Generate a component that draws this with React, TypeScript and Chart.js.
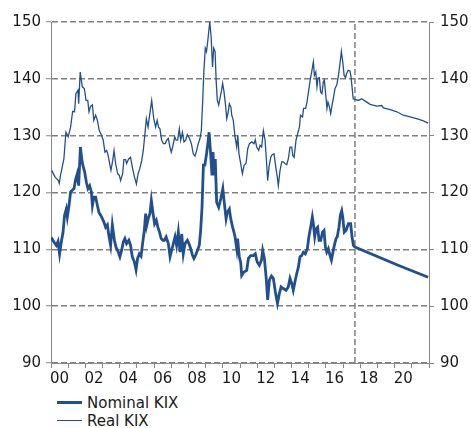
import React, { useEffect, useRef } from "react";
import { Chart, registerables } from "chart.js";

Chart.register(...registerables);

const realYears = [
  2000.04, 2000.24, 2000.43, 2000.48, 2000.57, 2000.75, 2000.87, 2001.0, 2001.14, 2001.26,
  2001.37, 2001.45, 2001.57, 2001.61, 2001.7, 2001.82, 2001.94, 2002.04, 2002.14, 2002.21,
  2002.31, 2002.41, 2002.49, 2002.6, 2002.7, 2002.81, 2002.93, 2003.04, 2003.14, 2003.24,
  2003.33, 2003.43, 2003.49, 2003.59, 2003.67, 2003.76, 2003.88, 2003.98, 2004.05, 2004.17,
  2004.24, 2004.34, 2004.4, 2004.52, 2004.63, 2004.75, 2004.86, 2004.97, 2005.07, 2005.17,
  2005.28, 2005.37, 2005.47, 2005.55, 2005.65, 2005.74, 2005.86, 2005.98, 2006.09, 2006.18,
  2006.26, 2006.34, 2006.44, 2006.54, 2006.65, 2006.75, 2006.83, 2006.92, 2007.0, 2007.08,
  2007.2, 2007.28, 2007.37, 2007.47, 2007.55, 2007.65, 2007.74, 2007.84, 2007.93, 2008.05,
  2008.17, 2008.28, 2008.38, 2008.48, 2008.57, 2008.67, 2008.75, 2008.83, 2008.9, 2008.98,
  2009.05, 2009.13, 2009.24, 2009.32, 2009.4, 2009.47, 2009.55, 2009.61, 2009.68, 2009.76,
  2009.83, 2009.91, 2009.99, 2010.07, 2010.15, 2010.23, 2010.3, 2010.38, 2010.47, 2010.52,
  2010.61, 2010.71, 2010.81, 2010.87, 2010.94, 2011.04, 2011.14, 2011.24, 2011.35, 2011.45,
  2011.55, 2011.68, 2011.82, 2011.89, 2011.97, 2012.09, 2012.17, 2012.26, 2012.36, 2012.46,
  2012.55, 2012.61, 2012.69, 2012.79, 2012.88, 2012.98, 2013.08, 2013.17, 2013.23, 2013.33,
  2013.43, 2013.52, 2013.62, 2013.72, 2013.81, 2013.91, 2014.01, 2014.07, 2014.15, 2014.26,
  2014.36, 2014.46, 2014.52, 2014.64, 2014.7, 2014.82, 2014.9, 2015.0, 2015.1, 2015.17,
  2015.27, 2015.33, 2015.41, 2015.48, 2015.54, 2015.62, 2015.69, 2015.77, 2015.85, 2015.91,
  2016.0, 2016.06, 2016.12, 2016.2, 2016.28, 2016.36, 2016.43, 2016.53, 2016.63, 2016.72,
  2016.82, 2016.9, 2016.98, 2017.06, 2017.14, 2017.2, 2017.3, 2017.4, 2017.46, 2017.53,
  2017.59, 2017.69, 2017.89, 2018.08, 2018.38, 2018.57, 2018.96, 2019.25, 2019.35, 2019.74,
  2020.13, 2020.5, 2020.9, 2021.28, 2021.67, 2021.95,
];
const realValues = [
  123.9, 122.7, 122.1, 121.6, 123.3, 125.9, 130.6, 129.8, 131.5, 134.3,
  134.2, 137.4, 138.0, 135.6, 141.2, 138.6, 138.3, 136.2, 136.2, 134.2,
  135.2, 135.4, 132.7, 133.6, 132.7, 130.9, 130.1, 129.2, 127.1, 127.4,
  126.5, 124.8, 123.9, 125.6, 127.4, 125.1, 123.3, 123.0, 122.1, 123.3,
  125.8, 125.8, 125.1, 125.9, 126.2, 124.2, 122.7, 121.5, 123.3, 124.2,
  125.6, 127.4, 130.4, 133.0, 131.5, 133.6, 136.2, 133.0, 131.5, 132.7,
  131.5, 131.2, 129.2, 128.6, 128.6, 129.3, 129.5, 128.0, 127.1, 128.0,
  129.8, 129.2, 129.2, 131.2, 129.2, 130.6, 128.9, 129.2, 130.2, 129.6,
  128.6, 126.8, 126.4, 127.4, 128.6, 129.5, 130.9, 136.2, 141.5, 145.4,
  144.8, 146.8, 150.0, 147.4, 142.1, 145.4, 144.8, 139.8, 136.2, 135.4,
  136.5, 137.7, 139.2, 137.7, 135.6, 133.0, 133.9, 135.6, 135.0, 133.6,
  132.7, 129.8, 128.0, 130.1, 126.8, 125.1, 123.3, 124.8, 125.1, 127.7,
  128.6, 128.9, 128.6, 129.3, 128.0, 127.4, 128.3, 128.0, 130.9, 129.2,
  125.1, 122.1, 124.5, 126.2, 126.7, 126.8, 124.5, 122.7, 121.2, 123.9,
  125.4, 125.4, 125.1, 124.9, 125.9, 128.0, 128.0, 126.5, 126.2, 129.2,
  130.4, 131.5, 133.6, 133.3, 134.8, 134.8, 135.9, 138.0, 140.1, 141.2,
  143.0, 140.6, 141.2, 138.6, 140.1, 140.2, 137.7, 137.4, 139.5, 139.8,
  136.8, 134.8, 135.9, 135.1, 133.9, 135.4, 136.5, 138.3, 138.9, 140.4,
  142.7, 144.8, 143.0, 140.6, 140.2, 140.9, 141.5, 141.4, 140.4, 138.3,
  136.5, 136.4, 136.2, 136.5, 135.9, 135.5, 135.2, 135.3, 134.9, 134.6,
  134.2, 133.6, 133.3, 133.0, 132.6, 132.2,
];

const nominalYears = [
  2000.02, 2000.17, 2000.31, 2000.41, 2000.5, 2000.6, 2000.7, 2000.79, 2000.89, 2000.95,
  2001.05, 2001.14, 2001.24, 2001.34, 2001.44, 2001.53, 2001.61, 2001.71, 2001.81, 2001.88,
  2001.96, 2002.06, 2002.15, 2002.25, 2002.35, 2002.41, 2002.5, 2002.6, 2002.7, 2002.79,
  2002.89, 2002.99, 2003.08, 2003.18, 2003.28, 2003.37, 2003.47, 2003.57, 2003.69, 2003.78,
  2003.92, 2004.01, 2004.11, 2004.21, 2004.3, 2004.4, 2004.53, 2004.63, 2004.73, 2004.85,
  2004.95, 2005.04, 2005.14, 2005.24, 2005.33, 2005.43, 2005.51, 2005.57, 2005.66, 2005.76,
  2005.84, 2005.94, 2006.03, 2006.13, 2006.22, 2006.32, 2006.41, 2006.51, 2006.6, 2006.7,
  2006.83, 2006.93, 2007.02, 2007.12, 2007.22, 2007.31, 2007.41, 2007.51, 2007.61, 2007.7,
  2007.8, 2007.94, 2008.03, 2008.13, 2008.23, 2008.32, 2008.42, 2008.52, 2008.63, 2008.71,
  2008.79, 2008.87, 2008.95, 2009.04, 2009.14, 2009.2, 2009.3, 2009.37, 2009.43, 2009.49,
  2009.56, 2009.64, 2009.76, 2009.88, 2010.0, 2010.07, 2010.19, 2010.26, 2010.38, 2010.46,
  2010.57, 2010.65, 2010.71, 2010.81, 2010.86, 2010.96, 2011.04, 2011.1, 2011.23, 2011.39,
  2011.49, 2011.62, 2011.77, 2011.89, 2012.0, 2012.13, 2012.25, 2012.32, 2012.42, 2012.52,
  2012.61, 2012.71, 2012.83, 2012.94, 2013.06, 2013.18, 2013.29, 2013.39, 2013.52, 2013.68,
  2013.81, 2013.91, 2014.01, 2014.1, 2014.22, 2014.3, 2014.4, 2014.49, 2014.59, 2014.69,
  2014.8, 2014.92, 2015.01, 2015.11, 2015.21, 2015.27, 2015.35, 2015.43, 2015.52, 2015.6,
  2015.7, 2015.8, 2015.89, 2015.97, 2016.05, 2016.14, 2016.24, 2016.32, 2016.39, 2016.49,
  2016.59, 2016.66, 2016.76, 2016.84, 2016.92, 2016.98, 2017.07, 2017.17, 2017.31, 2017.44,
  2017.52, 2017.6, 2017.69, 2020.13, 2021.95,
];
const nominalValues = [
  112.1, 111.3, 110.7, 111.4, 109.2, 111.3, 113.0, 116.0, 117.1, 115.7,
  117.7, 120.1, 120.4, 120.7, 122.4, 123.3, 121.2, 128.0, 125.4, 124.5,
  123.6, 121.8, 120.7, 121.2, 120.1, 117.7, 119.2, 119.2, 117.7, 116.5,
  116.0, 115.4, 114.8, 113.9, 114.3, 112.4, 110.7, 114.3, 111.6, 110.4,
  109.5, 108.7, 109.8, 111.3, 111.9, 111.0, 111.6, 110.7, 108.7, 107.8,
  106.4, 108.4, 109.2, 108.8, 111.0, 113.3, 116.3, 114.2, 115.4, 116.3,
  118.6, 116.3, 114.5, 115.1, 113.9, 113.0, 111.9, 111.6, 111.6, 112.2,
  111.0, 108.7, 109.8, 111.0, 112.2, 110.7, 113.0, 109.5, 112.7, 109.2,
  111.0, 111.6, 111.0, 110.1, 109.0, 108.4, 109.0, 109.8, 110.7, 113.3,
  117.4, 124.8, 124.8, 126.5, 128.9, 130.6, 126.5, 123.0, 127.1, 123.0,
  125.9, 118.3, 117.4, 118.9, 120.7, 118.6, 115.4, 116.5, 117.1, 115.4,
  113.9, 113.0, 112.2, 110.1, 111.9, 108.7, 107.7, 105.4, 106.0, 106.3,
  108.4, 108.9, 108.9, 109.2, 107.8, 107.2, 108.1, 109.8, 108.4, 105.1,
  101.1, 104.6, 105.3, 104.9, 102.5, 100.5, 102.2, 103.4, 103.1, 102.8,
  103.4, 104.9, 104.0, 102.8, 104.6, 105.7, 106.9, 108.7, 108.9, 109.5,
  109.2, 110.1, 112.2, 113.9, 115.7, 114.5, 112.2, 113.6, 113.9, 111.6,
  111.6, 113.0, 113.3, 110.4, 109.5, 110.1, 108.9, 108.1, 109.2, 110.7,
  111.9, 112.2, 113.9, 116.0, 116.8, 115.7, 113.0, 113.3, 114.5, 114.5,
  112.2, 110.7, 110.4, 107.3, 105.1,
];

const forecastStartYear = 2017.69;
const yMin = 90;
const yMax = 150;
const yStep = 10;
const xMin = 2000;
const xMax = 2022;

const seriesNames = ["Nominal KIX", "Real KIX"];
const lineColor = "#22508f";
const gridColor = "#808080";
const axisColor = "#888888";
const textColor = "#1a1a1a";
const fontFamily = "'DejaVu Sans', Verdana, sans-serif";

function toPoints(xs: number[], ys: number[]) {
  return xs.map((x, i) => ({ x, y: ys[i] }));
}

export default function App() {
  const ref = useRef<HTMLCanvasElement | null>(null);

  useEffect(() => {
    if (!ref.current) return;
    const font = { family: fontFamily, size: 15 };
    const chart = new Chart(ref.current, {
      type: "line",
      data: {
        datasets: [
          {
            label: seriesNames[1],
            data: toPoints(realYears, realValues),
            borderColor: lineColor,
            borderWidth: 1.3,
            pointRadius: 0,
            tension: 0,
            fill: false,
          },
          {
            label: seriesNames[0],
            data: toPoints(nominalYears, nominalValues),
            borderColor: lineColor,
            borderWidth: 2.8,
            pointRadius: 0,
            tension: 0,
            fill: false,
          },
          {
            label: "forecast",
            data: [
              { x: forecastStartYear, y: yMin },
              { x: forecastStartYear, y: yMax },
            ],
            borderColor: gridColor,
            borderWidth: 1.5,
            borderDash: [6, 3],
            pointRadius: 0,
            fill: false,
          },
        ],
      },
      options: {
        animation: false,
        responsive: false,
        parsing: true,
        layout: { padding: { top: 22, left: 0, right: 0, bottom: 0 } },
        plugins: {
          legend: { display: false },
          tooltip: { enabled: false },
        },
        scales: {
          x: {
            type: "linear",
            position: "bottom",
            min: xMin,
            max: xMax,
            ticks: {
              stepSize: 1,
              autoSkip: false,
              maxRotation: 0,
              minRotation: 0,
              labelOffset: 8.6,
              padding: 2,
              color: textColor,
              font,
              callback: (value: any) => {
                const v = Math.round(Number(value));
                if (v % 2 !== 0 || v >= xMax) return "";
                return String(v % 100).padStart(2, "0");
              },
            },
            grid: {
              drawOnChartArea: false,
              drawTicks: true,
              tickLength: 5,
              color: axisColor,
              lineWidth: 1,
            },
            border: { display: true, color: axisColor, width: 1 },
            afterFit: (s: any) => {
              s.height = 27;
            },
          },
          y: {
            position: "left",
            min: yMin,
            max: yMax,
            ticks: { stepSize: yStep, padding: 5, color: textColor, font },
            grid: {
              color: gridColor,
              lineWidth: 1.5,
              drawTicks: true,
              tickLength: 5,
              tickColor: axisColor,
              tickWidth: 1,
            },
            border: { display: true, color: axisColor, width: 1, dash: [6, 3] },
            afterFit: (s: any) => {
              s.width = 51;
            },
          },
          y2: {
            position: "right",
            min: yMin,
            max: yMax,
            ticks: { stepSize: yStep, padding: 6, color: textColor, font },
            grid: {
              drawOnChartArea: false,
              drawTicks: true,
              tickLength: 5,
              color: axisColor,
              lineWidth: 1,
            },
            border: { display: true, color: axisColor, width: 1 },
            afterFit: (s: any) => {
              s.width = 42;
            },
          },
        },
      },
    });
    return () => chart.destroy();
  }, []);

  const legendText: React.CSSProperties = {
    position: "absolute",
    left: 87,
    fontFamily,
    fontSize: 15,
    lineHeight: "18px",
    color: textColor,
    whiteSpace: "nowrap",
  };

  return (
    <div style={{ position: "absolute", left: 0, top: 0, width: 471, height: 428, background: "#fff" }}>
      <canvas ref={ref} width={471} height={390} style={{ display: "block" }} />
      <div style={{ position: "absolute", left: 57, top: 401, width: 25, height: 3, background: lineColor }} />
      <div style={{ ...legendText, top: 394 }}>{seriesNames[0]}</div>
      <div style={{ position: "absolute", left: 57, top: 420, width: 25, height: 1.3, background: lineColor }} />
      <div style={{ ...legendText, top: 412 }}>{seriesNames[1]}</div>
    </div>
  );
}
